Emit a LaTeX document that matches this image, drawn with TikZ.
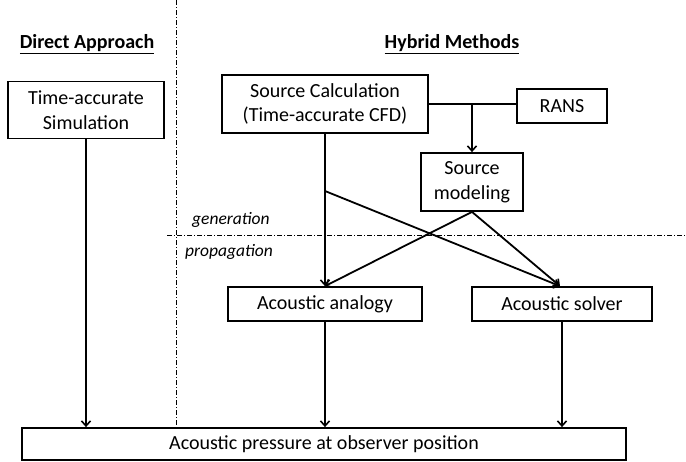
\documentclass[tikz,border=0pt]{standalone}
\usepackage{fontspec}
\setmainfont{Carlito}
\usetikzlibrary{arrows.meta}
\begin{document}
\begin{tikzpicture}[x=1pt,y=-1pt,
  box/.style={draw,line width=1.8pt,inner sep=0pt,align=center,
    font=\fontsize{20}{24.5}\selectfont},
  arr/.style={line width=1.8pt,-{Straight Barb[length=5pt,width=9pt,line width=1.6pt]}},
  conn/.style={line width=1.8pt},
  sep/.style={line width=0.8pt,dash pattern=on 5pt off 2pt on 1pt off 2pt},
  head/.style={font=\fontsize{20}{24}\selectfont\bfseries},
  lab/.style={font=\fontsize{17.5}{20}\selectfont\itshape,inner sep=0pt}]
\useasboundingbox (0,0) rectangle (686,461);

% headers
\node[head] (hd) at (87,44) {\underline{Direct Approach}};
\node[head] (hh) at (452,44) {\underline{Hybrid Methods}};

% boxes
\node[box,minimum width=156pt,minimum height=57pt] (ta) at (86,110) {Time-accurate\\Simulation};
\node[box,minimum width=206pt,minimum height=58pt] (sc) at (325,104) {Source Calculation\\(Time-accurate CFD)};
\node[box,minimum width=90pt,minimum height=34pt] (rans) at (562,106) {RANS};
\node[box,minimum width=102pt,minimum height=58pt] (sm) at (472,182) {Source\\modeling};
\node[box,minimum width=194pt,minimum height=34pt] (aa) at (325,304) {Acoustic analogy};
\node[box,minimum width=180pt,minimum height=34pt] (as) at (562,304) {Acoustic solver};
\node[box,minimum width=604pt,minimum height=32pt] (out) at (324,444) {Acoustic pressure at observer position};

% separators
\coordinate (vtop) at (176,0);
\draw[sep] (vtop) -- (vtop |- out.north);
\coordinate (hl) at (167,235);
\coordinate (hr) at (686,235);
\draw[sep] (hl) -- (hr);

\node[lab,anchor=base west] (gen) at (192,224) {generation};
\node[lab,anchor=base west] (prop) at (185,256) {propagation};

% connectors
\coordinate (j) at (sm.north |- sc.east);
\draw[conn] (sc.east) -- (sc.east -| rans.west);
\draw[arr] (j) -- (sm.north);
\draw[arr] (sc.south) -- (aa.north);
\coordinate (k) at (325,191);
\coordinate (asin) at ([xshift=-2pt]as.north);
\draw[arr] (k) -- (asin);
\draw[arr] (sm.south) -- (aa.north);
\draw[arr] (sm.south) -- (asin);

\draw[arr] (ta.south) -- (ta.south |- out.north);
\draw[arr] (aa.south) -- (aa.south |- out.north);
\draw[arr] (as.south) -- (as.south |- out.north);
\end{tikzpicture}
\end{document}
